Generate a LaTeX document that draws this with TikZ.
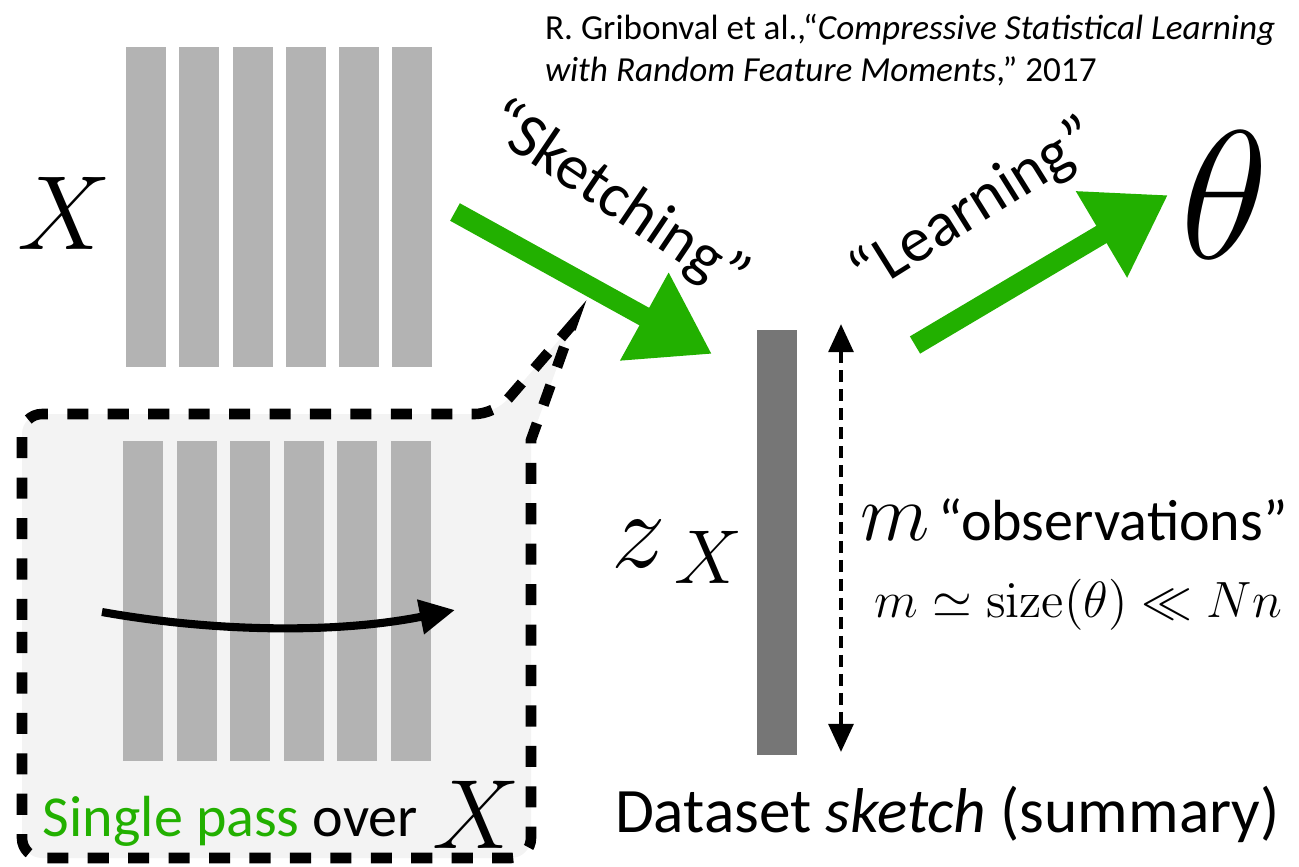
\RequirePackage{fix-cm}
\documentclass[tikz,border=0pt]{standalone}
\usepackage[no-math]{fontspec}
\setmainfont{Carlito}
\usetikzlibrary{arrows.meta}
\definecolor{passgreen}{RGB}{34,176,0}
\definecolor{bargray}{RGB}{179,179,179}
\definecolor{sketchgray}{RGB}{118,118,118}
\definecolor{boxgray}{RGB}{243,243,243}

\begin{document}
\begin{tikzpicture}[x=0.01cm, y=-0.01cm,
  every node/.style={inner sep=0pt, outer sep=0pt},
  bigarrow/.style={passgreen, line width=5.7pt, -{Triangle[length=22pt, width=27pt]}},
  callout/.style={fill=boxgray, draw=black, line width=3pt, dash pattern=on 6pt off 5.5pt}]
  \useasboundingbox (0,0) rectangle (1299,866);

  \coordinate (S1) at (455,212);
  \coordinate (S2) at (712,354);
  \coordinate (L1) at (915,345);
  \coordinate (L2) at (1168,195);
  \coordinate (M1) at (841,324);
  \coordinate (M2) at (841,752);
  \coordinate (P1) at (102,612);
  \coordinate (P2) at (455,610);
  \coordinate (T)  at (572,325);

  % data matrix X
  \fill[bargray] (126,47) rectangle (166,367);
  \fill[bargray] (179,47) rectangle (219,367);
  \fill[bargray] (233,47) rectangle (273,367);
  \fill[bargray] (286,47) rectangle (326,367);
  \fill[bargray] (339,47) rectangle (379,367);
  \fill[bargray] (392,47) rectangle (432,367);

  % zoomed-in pass over X
  \draw[callout] (22,640) [rounded corners=0.2cm] -- (22,414) -- (495,414) [sharp corners] -- (T)
    -- (531,440) [rounded corners=0.2cm] -- (531,858) -- (22,858) -- cycle;
  \fill[bargray] (123,441) rectangle (163,761);
  \fill[bargray] (177,441) rectangle (217,761);
  \fill[bargray] (230,441) rectangle (270,761);
  \fill[bargray] (284,441) rectangle (324,761);
  \fill[bargray] (337,441) rectangle (377,761);
  \fill[bargray] (391,441) rectangle (431,761);
  \draw[line width=2.3pt, -{Triangle[length=10pt, width=9.5pt]}] (P1) .. controls (220,633) and (340,633) .. (P2);

  % sketch
  \fill[sketchgray] (757,330) rectangle (797,755);
  \draw[line width=1.2pt, dash pattern=on 3.4pt off 2pt,
    {Triangle[length=8pt, width=7pt]}-{Triangle[length=8pt, width=7pt]}] (M1) -- (M2);

  \draw[bigarrow] (S1) -- (S2);
  \draw[bigarrow] (L1) -- (L2);

  \node (X) at (65,213) {\fontsize{30}{30}\selectfont$X$};
  \node (theta) at (1225,195) {\fontsize{52}{52}\selectfont$\theta$};
  \node[rotate=-34] (sk) at (617,200) {\fontsize{18}{18}\selectfont “Sketching”};
  \node[rotate=32] (lrn) at (975,207) {\fontsize{18}{18}\selectfont “Learning”};
  \node[anchor=north west, align=left] (ref) at (545,14)
    {\fontsize{10}{12.5}\selectfont R. Gribonval et al.,“\textit{Compressive Statistical Learning}\\
     \textit{with Random Feature Moments},” 2017};
  \node (zX) at (678,552) {\fontsize{31}{31}\selectfont$z_{\,X}$};
  \node[anchor=base west] (obs) at (860,540)
    {\fontsize{23}{23}\selectfont$m$\fontsize{16.5}{16.5}\selectfont\,“observations”};
  \node[anchor=base east] (size) at (1282,617)
    {\fontsize{14.5}{14.5}\selectfont$m\simeq\mathrm{size}(\theta)\ll Nn$};
  \node[anchor=base west] (ds) at (615,832)
    {\fontsize{18}{18}\selectfont Dataset \textit{sketch} (summary)};
  \node[anchor=base west] (pass) at (43,836)
    {\fontsize{16.5}{16.5}\selectfont\textcolor{passgreen}{Single pass} over};
  \node[anchor=base west] (passX) at (432,848) {\fontsize{28}{28}\selectfont$X$};
\end{tikzpicture}
\end{document}
